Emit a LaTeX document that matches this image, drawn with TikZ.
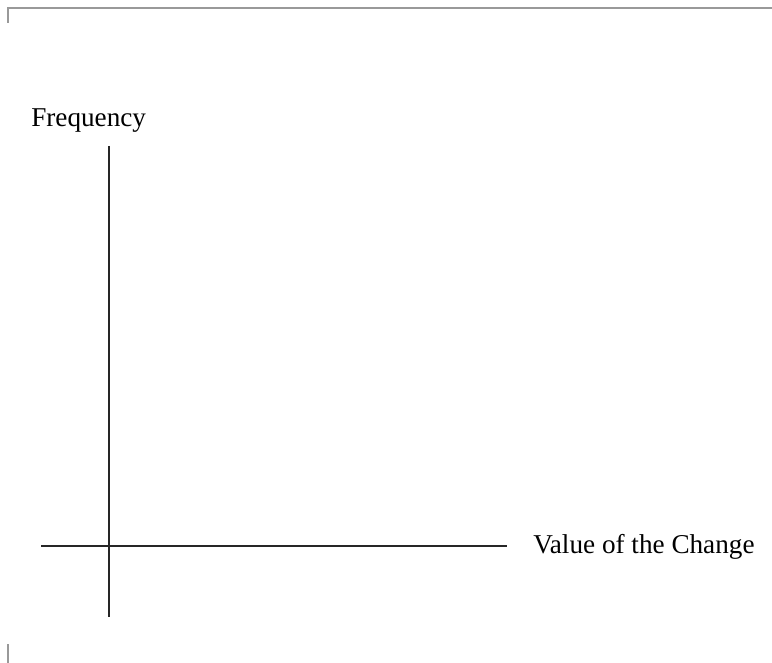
\documentclass[tikz,border=0pt]{standalone}
\usepackage{fontspec}
\setmainfont{Liberation Serif}
\usepackage{tikz}
\usetikzlibrary{positioning}

\begin{document}
\begin{tikzpicture}[x=0.75pt,y=-0.75pt,
  axis/.style={line width=1.1pt,draw=black!85},
  frame/.style={line width=1.5pt,draw=black!40},
  lab/.style={font=\fontsize{20.4pt}{24pt}\selectfont,inner sep=0pt,anchor=base west}]
\useasboundingbox (0,0) rectangle (772,663);
% page edge
\coordinate (tl) at (8,8);
\coordinate (tr) at (772,8);
\coordinate (tt) at (8,23);
\coordinate (bt) at (8,644);
\coordinate (bb) at (8,663);
\draw[frame] (tt)--(tl)--(tr);
\draw[frame] (bt)--(bb);
% axes
\coordinate (ytop) at (109,146);
\coordinate (ybot) at (109,617);
\coordinate (xleft) at (41,546);
\coordinate (xright) at (507,546);
\draw[axis] (ytop)--(ybot);
\draw[axis] (xleft)--(xright);
\node[lab] (freq) at (31,127) {Frequency};
\node[lab] (value) at (533,553) {Value of the Change};
\end{tikzpicture}
\end{document}
